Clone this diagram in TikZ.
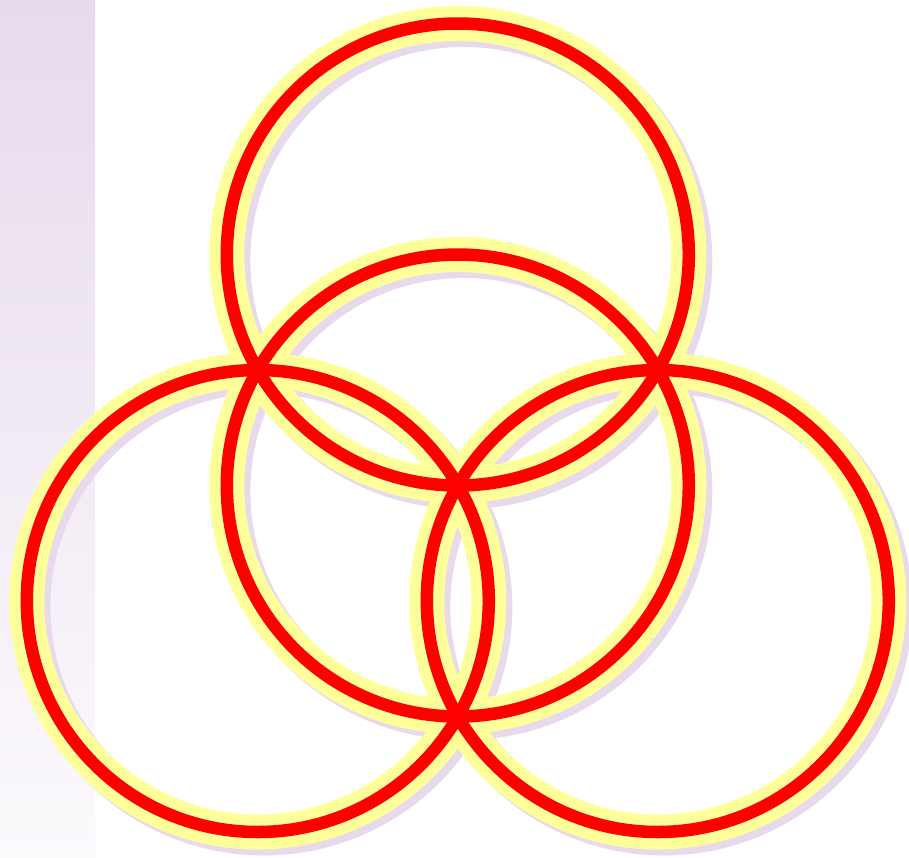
\documentclass[tikz,border=0pt]{standalone}
\definecolor{striptop}{HTML}{E7DAEC}
\definecolor{stripbot}{HTML}{FCFAFD}
\definecolor{ringlav}{HTML}{E8DAEC}
\definecolor{ringpale}{HTML}{FFFF99}
\tikzset{
  ringshadow/.style={draw=ringlav,line width=35pt},
  ringhalo/.style={draw=ringpale,line width=35pt},
  ringred/.style={draw=red,line width=12.5pt}
}
\begin{document}
\begin{tikzpicture}[x=1pt,y=-1pt]
  \useasboundingbox (0,0) rectangle (909,857);
  \shade[top color=striptop,bottom color=stripbot] (0,0) rectangle (95,857);
  % ring centres
  \coordinate (top) at (457.8,254.5);
  \coordinate (mid) at (457.8,485.5);
  \coordinate (left) at (257.8,601);
  \coordinate (right) at (657.8,601);
  \foreach \c in {top,mid,left,right}
    \draw[ringshadow] ([shift={(6,6)}]\c) circle[radius=231pt];
  \foreach \c in {top,mid,left,right}
    \draw[ringhalo] (\c) circle[radius=231pt];
  \foreach \c in {top,mid,left,right}
    \draw[ringred] (\c) circle[radius=231pt];
\end{tikzpicture}
\end{document}
